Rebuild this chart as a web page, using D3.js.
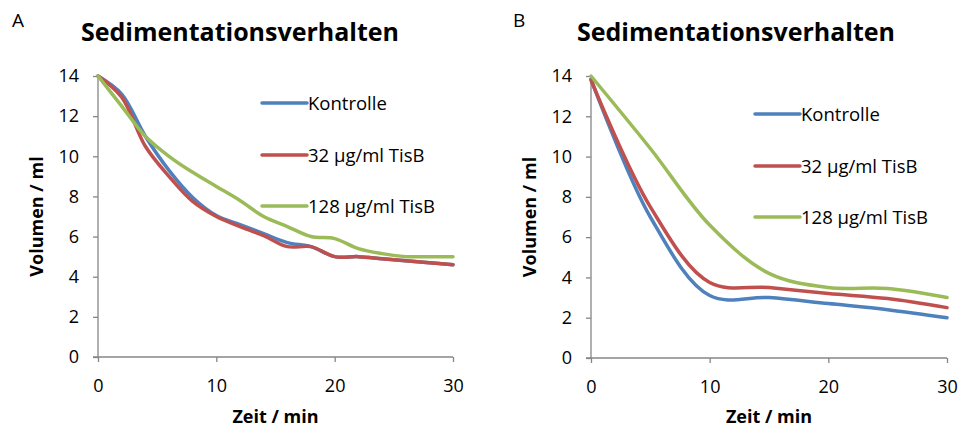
<!DOCTYPE html>
<html lang="de">
<head>
<meta charset="UTF-8">
<script src="https://d3js.org/d3.v7.min.js"></script>
<title>Sedimentationsverhalten</title>
<style>
  body { margin: 0; background: #fff; }
  text { font-family: "Open Sans", sans-serif; fill: #000; }
</style>
</head>
<body>
<svg id="chart" width="962" height="428"></svg>
<script>
// --- data ---
const seriesNames = ["Kontrolle", "32 µg/ml TisB", "128 µg/ml TisB"];
const seriesColors = ["#4F81BD", "#C0504D", "#9BBB59"];

const timeA      = [0, 2, 4, 6, 8, 10, 12, 14, 16, 18, 20, 22, 24, 26, 28, 30];
const kontrolleA = [14, 13.1, 11.0, 9.3, 7.95, 7.05, 6.6, 6.15, 5.7, 5.5, 5.0, 5.0, 4.9, 4.8, 4.7, 4.6];
const tisb32A    = [14, 12.95, 10.5, 9.0, 7.75, 7.0, 6.5, 6.05, 5.5, 5.5, 5.0, 5.0, 4.9, 4.8, 4.7, 4.6];
const tisb128A   = [14, 12.5, 11.0, 10.0, 9.2, 8.5, 7.8, 7.0, 6.5, 6.0, 5.9, 5.4, 5.15, 5.0, 5.0, 5.0];

const timeB      = [0, 5, 10, 15, 20, 25, 30];
const kontrolleB = [13.85, 7.0, 3.1, 3.0, 2.7, 2.4, 2.0];
const tisb32B    = [13.8, 7.5, 3.75, 3.5, 3.2, 2.95, 2.5];
const tisb128B   = [14, 10.4, 6.6, 4.2, 3.5, 3.45, 3.0];

const xTicks = [0, 10, 20, 30];
const yTicks = [0, 2, 4, 6, 8, 10, 12, 14];

const title = "Sedimentationsverhalten";
const xTitle = "Zeit / min";
const yTitle = "Volumen / ml";

const svg = d3.select("#chart");

function drawPanel(cfg, time, series) {
  const g = svg.append("g");
  const x = d3.scaleLinear().domain([0, 30]).range([cfg.left, cfg.right]);
  const y = d3.scaleLinear().domain([0, 14]).range([cfg.bottom, cfg.top]);

  // panel letter + title
  g.append("text").attr("x", cfg.letterX).attr("y", 27)
    .attr("font-size", 19).text(cfg.letter);
  g.append("text").attr("x", cfg.titleX).attr("y", 41)
    .attr("text-anchor", "middle").attr("font-size", 25).attr("font-weight", "bold")
    .text(title);

  // axes
  const yAxis = g.append("g").attr("transform", `translate(${cfg.left},0)`)
    .call(d3.axisLeft(y).tickValues(yTicks).tickSize(5).tickPadding(14));
  const xAxis = g.append("g").attr("transform", `translate(0,${cfg.bottom})`)
    .call(d3.axisBottom(x).tickValues(xTicks).tickSize(5).tickPadding(17));
  [xAxis, yAxis].forEach(a => {
    a.select(".domain").attr("stroke", "#868686").attr("stroke-width", 1.3);
    a.selectAll(".tick line").attr("stroke", "#868686").attr("stroke-width", 1.3);
    a.selectAll(".tick text").attr("font-size", 18).attr("font-family", "Open Sans").attr("fill", "#000");
  });
  // plain axis lines without the outer end ticks
  yAxis.select(".domain").attr("d", `M0,${cfg.bottom}V${cfg.top}`);
  xAxis.select(".domain").attr("d", `M${cfg.left - 5},0H${cfg.right}`);

  g.append("text").attr("x", (cfg.left + cfg.right) / 2).attr("y", 423)
    .attr("text-anchor", "middle").attr("font-size", 18).attr("font-weight", "bold")
    .text(xTitle);
  g.append("text")
    .attr("transform", `translate(${cfg.yTitleX},${(cfg.top + cfg.bottom) / 2}) rotate(-90)`)
    .attr("text-anchor", "middle").attr("dy", "0.35em")
    .attr("font-size", 18).attr("font-weight", "bold")
    .text(yTitle);

  // lines
  const line = d3.line()
    .x(d => x(d[0])).y(d => y(d[1]))
    .curve(d3.curveCatmullRom.alpha(0.5));
  series.forEach((vals, i) => {
    g.append("path")
      .datum(time.map((t, j) => [t, vals[j]]))
      .attr("fill", "none")
      .attr("stroke", seriesColors[i])
      .attr("stroke-width", 3.5)
      .attr("stroke-linejoin", "round")
      .attr("stroke-linecap", "round")
      .attr("d", line);
  });

  // legend
  seriesNames.forEach((name, i) => {
    const ly = cfg.legendY[i];
    g.append("line").attr("x1", cfg.legendX1).attr("x2", cfg.legendX2)
      .attr("y1", ly).attr("y2", ly)
      .attr("stroke", seriesColors[i]).attr("stroke-width", 3.5).attr("stroke-linecap", "round");
    g.append("text").attr("x", cfg.legendX2 + 1).attr("y", ly).attr("dy", "0.36em")
      .attr("font-size", 18.5).text(name);
  });
}

drawPanel({ letter: "A", letterX: 12, titleX: 240, left: 98, right: 453, top: 76, bottom: 357,
  yTitleX: 37, legendX1: 262, legendX2: 307, legendY: [103, 155, 206] },
  timeA, [kontrolleA, tisb32A, tisb128A]);

drawPanel({ letter: "B", letterX: 513, titleX: 736, left: 591, right: 947, top: 76, bottom: 358,
  yTitleX: 530, legendX1: 755, legendX2: 800, legendY: [114, 166, 217] },
  timeB, [kontrolleB, tisb32B, tisb128B]);
</script>
</body>
</html>
